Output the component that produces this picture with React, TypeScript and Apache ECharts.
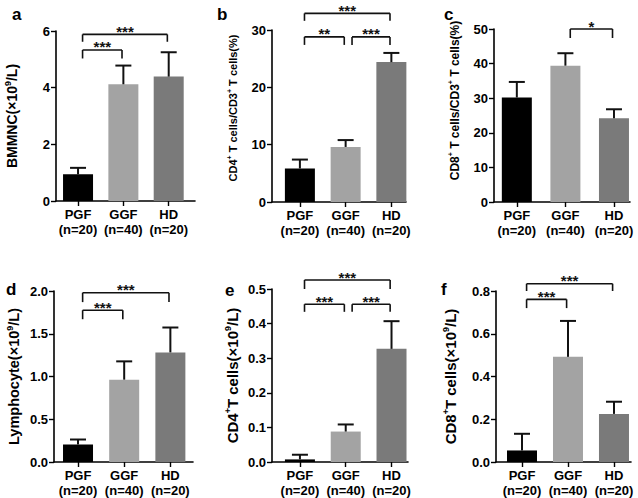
import React, { useEffect, useRef } from "react";
import * as echarts from "echarts";

const FONT = '"Liberation Sans", Arial, Helvetica, sans-serif';

const categories = ["PGF", "GGF", "HD"];
const sampleSizes = ["n=20", "n=40", "n=20"];
const barColors = ["#000000", "#a3a3a3", "#7a7a7a"];

// a: BMMNC
const bmmncMean = [0.94, 4.12, 4.39];
const bmmncUpper = [1.17, 4.78, 5.25];
// b: CD4/CD3 %
const cd4PctMean = [5.85, 9.6, 24.4];
const cd4PctUpper = [7.4, 10.8, 26.0];
// c: CD8/CD3 %
const cd8PctMean = [30.2, 39.4, 24.2];
const cd8PctUpper = [34.7, 43.0, 26.8];
// d: Lymphocyte
const lymphMean = [0.205, 0.963, 1.282];
const lymphUpper = [0.263, 1.177, 1.573];
// e: CD4 absolute
const cd4AbsMean = [0.0075, 0.088, 0.327];
const cd4AbsUpper = [0.021, 0.1085, 0.407];
// f: CD8 absolute
const cd8AbsMean = [0.054, 0.492, 0.225];
const cd8AbsUpper = [0.132, 0.66, 0.282];

// significance comparisons: [from, to, stars, bracket level, leg end level]
type Cmp = [number, number, string, number, number];
const bmmncCmp: Cmp[] = [
  [0, 2, "***", 5.88, 5.62],
  [0, 1, "***", 5.33, 5.03],
];
const cd4PctCmp: Cmp[] = [
  [0, 2, "***", 32.9, 31.6],
  [0, 1, "**", 28.8, 27.4],
  [1, 2, "***", 28.8, 27.4],
];
const cd8PctCmp: Cmp[] = [[1, 2, "*", 50.0, 47.4]];
const lymphCmp: Cmp[] = [
  [0, 2, "***", 1.98, 1.87],
  [0, 1, "***", 1.775, 1.67],
];
const cd4AbsCmp: Cmp[] = [
  [0, 2, "***", 0.526, 0.5],
  [0, 1, "***", 0.456, 0.434],
  [1, 2, "***", 0.456, 0.434],
];
const cd8AbsCmp: Cmp[] = [
  [0, 2, "***", 0.834, 0.8],
  [0, 1, "***", 0.761, 0.72],
];

const panelLetters = ["a", "b", "c", "d", "e", "f"];
const yNames = [
  "BMMNC(×10{sup|9}/L)",
  "CD4{sup|+} T cells/CD3{sup|+} T cells(%)",
  "CD8{sup|+} T cells/CD3{sup|+} T cells(%)",
  "Lymphocyte(×10{sup|9}/L)",
  "CD4{sup|+}T cells(×10{sup|9}/L)",
  "CD8{sup|+}T cells(×10{sup|9}/L)",
];
const yMaxes = [6, 30, 50, 2.0, 0.5, 0.8];
const yIntervals = [2, 10, 10, 0.5, 0.1, 0.2];
const yDecimals = [0, 0, 0, 1, 1, 1];
const means = [bmmncMean, cd4PctMean, cd8PctMean, lymphMean, cd4AbsMean, cd8AbsMean];
const uppers = [bmmncUpper, cd4PctUpper, cd8PctUpper, lymphUpper, cd4AbsUpper, cd8AbsUpper];
const comparisons = [bmmncCmp, cd4PctCmp, cd8PctCmp, lymphCmp, cd4AbsCmp, cd8AbsCmp];

// layout (pixels / axis extents)
const layouts = [
  { left: 56, top: 31, width: 139, height: 170, xMin: -0.486, xMax: 2.58, nameGap: 36, namePad: 0, nameSize: 14, lx: 12, ly: 16 },
  { left: 272, top: 30, width: 134, height: 172, xMin: -0.61, xMax: 2.32, nameGap: 32, namePad: 16, nameSize: 11, lx: 217, ly: 15.5 },
  { left: 494, top: 29, width: 136, height: 173, xMin: -0.47, xMax: 2.33, nameGap: 32, namePad: 30, nameSize: 12, lx: 444, ly: 16 },
  { left: 54, top: 291, width: 139, height: 171, xMin: -0.52, xMax: 2.49, nameGap: 31, namePad: 0, nameSize: 14.5, lx: 6, ly: 291 },
  { left: 272, top: 289, width: 136, height: 173, xMin: -0.61, xMax: 2.36, nameGap: 31, namePad: 0, nameSize: 15, lx: 225, ly: 292 },
  { left: 496, top: 291, width: 135, height: 171, xMin: -0.565, xMax: 2.37, nameGap: 37, namePad: 0, nameSize: 15, lx: 441, ly: 291 },
];

const BAR_W = 30;
const CAP_HALF = 8;
const INK = "#111";

function buildOption() {
  const grid: any[] = [];
  const xAxis: any[] = [];
  const yAxis: any[] = [];
  const series: any[] = [];
  const graphic: any[] = [];

  layouts.forEach((L, i) => {
    grid.push({ left: L.left, top: L.top, width: L.width, height: L.height, containLabel: false });
    xAxis.push({
      type: "value",
      gridIndex: i,
      min: L.xMin,
      max: L.xMax,
      splitLine: { show: false },
      axisLine: { show: true, onZero: false, lineStyle: { color: "#000", width: 1.6 } },
      axisTick: { show: true, customValues: [0, 1, 2], length: 5, lineStyle: { color: "#000", width: 1.4 } },
      axisLabel: {
        show: true,
        customValues: [0, 1, 2],
        formatter: (v: number) => `${categories[Math.round(v)]}\n(${sampleSizes[Math.round(v)]})`,
        fontFamily: FONT,
        fontWeight: "bold",
        fontSize: 13,
        lineHeight: 15,
        color: "#000",
        margin: 6,
      },
    });
    yAxis.push({
      type: "value",
      gridIndex: i,
      min: 0,
      max: yMaxes[i],
      interval: yIntervals[i],
      splitLine: { show: false },
      axisLine: { show: true, onZero: false, lineStyle: { color: "#000", width: 1.6 } },
      axisTick: { show: true, length: 5, lineStyle: { color: "#000", width: 1.4 } },
      axisLabel: {
        formatter: (v: number) => v.toFixed(yDecimals[i]),
        fontFamily: FONT,
        fontWeight: "bold",
        fontSize: 13,
        color: "#000",
        margin: 6,
      },
      name: yNames[i],
      nameLocation: "middle",
      nameRotate: 90,
      nameGap: L.nameGap,
      nameTextStyle: {
        fontFamily: FONT,
        fontWeight: "bold",
        fontSize: L.nameSize,
        color: "#000",
        lineHeight: L.nameSize + 3,
        padding: [0, 0, 0, L.namePad],
        rich: {
          sup: {
            fontFamily: FONT,
            fontWeight: "bold",
            fontSize: Math.round(L.nameSize * 0.62),
            lineHeight: Math.round(L.nameSize * 0.75),
            verticalAlign: "top",
            color: "#000",
          },
        },
      },
    });

    // bars
    series.push({
      type: "custom",
      name: "bars-" + panelLetters[i],
      xAxisIndex: i,
      yAxisIndex: i,
      clip: false,
      data: means[i].map((m, k) => [k, m]),
      renderItem: (params: any, api: any) => {
        const k = api.value(0);
        const v = api.value(1);
        const p0 = api.coord([k, 0]);
        const p1 = api.coord([k, v]);
        return {
          type: "rect",
          shape: { x: p0[0] - BAR_W / 2, y: p1[1], width: BAR_W, height: p0[1] - p1[1] },
          style: { fill: barColors[k] },
        };
      },
    });
    // error bars (upper only)
    series.push({
      type: "custom",
      name: "err-" + panelLetters[i],
      xAxisIndex: i,
      yAxisIndex: i,
      clip: false,
      data: means[i].map((m, k) => [k, m, uppers[i][k]]),
      renderItem: (params: any, api: any) => {
        const k = api.value(0);
        const pm = api.coord([k, api.value(1)]);
        const pu = api.coord([k, api.value(2)]);
        return {
          type: "group",
          children: [
            { type: "line", shape: { x1: pm[0], y1: pm[1], x2: pu[0], y2: pu[1] }, style: { stroke: INK, lineWidth: 2 } },
            { type: "line", shape: { x1: pu[0] - CAP_HALF, y1: pu[1], x2: pu[0] + CAP_HALF, y2: pu[1] }, style: { stroke: INK, lineWidth: 2 } },
          ],
        };
      },
    });
    // significance brackets
    const cmps = comparisons[i];
    series.push({
      type: "custom",
      name: "sig-" + panelLetters[i],
      xAxisIndex: i,
      yAxisIndex: i,
      clip: false,
      data: cmps.map((cm, j) => {
        const shared = cmps.some((o) => o !== cm && o[1] === cm[0]);
        const x1 = cm[0] + (shared ? 0.14 : 0.1);
        const x2 = cm[1] - 0.03;
        return [x1, x2, cm[3], cm[4], j];
      }),
      renderItem: (params: any, api: any) => {
        const x1 = api.value(0);
        const x2 = api.value(1);
        const yl = api.value(2);
        const yg = api.value(3);
        const j = api.value(4);
        const pA = api.coord([x1, yg]);
        const pB = api.coord([x1, yl]);
        const pC = api.coord([x2, yl]);
        const pD = api.coord([x2, yg]);
        const ls = { stroke: INK, lineWidth: 1.6 };
        return {
          type: "group",
          children: [
            { type: "line", shape: { x1: pA[0], y1: pA[1], x2: pB[0], y2: pB[1] }, style: ls },
            { type: "line", shape: { x1: pB[0], y1: pB[1], x2: pC[0], y2: pC[1] }, style: ls },
            { type: "line", shape: { x1: pC[0], y1: pC[1], x2: pD[0], y2: pD[1] }, style: ls },
            {
              type: "text",
              x: (pB[0] + pC[0]) / 2,
              y: pB[1] - 3,
              style: {
                text: cmps[j][2],
                fontFamily: FONT,
                fontWeight: "bold",
                fontSize: 15,
                fill: INK,
                align: "center",
                verticalAlign: "middle",
              },
            },
          ],
        };
      },
    });

    graphic.push({
      type: "text",
      left: L.lx,
      top: L.ly - 10,
      style: {
        text: panelLetters[i],
        fontFamily: FONT,
        fontWeight: "bold",
        fontSize: 17,
        fill: "#000",
      },
    });
  });

  return {
    animation: false,
    backgroundColor: "#fff",
    grid,
    xAxis,
    yAxis,
    series,
    graphic,
  };
}

export default function App() {
  const ref = useRef<HTMLDivElement>(null);
  useEffect(() => {
    if (!ref.current) return;
    const chart = echarts.init(ref.current, null, { renderer: "svg" });
    chart.setOption(buildOption() as any);
    return () => chart.dispose();
  }, []);
  return (
    <div
      ref={ref}
      style={{ position: "fixed", left: 0, top: 0, width: 638, height: 498, background: "#fff" }}
    />
  );
}
